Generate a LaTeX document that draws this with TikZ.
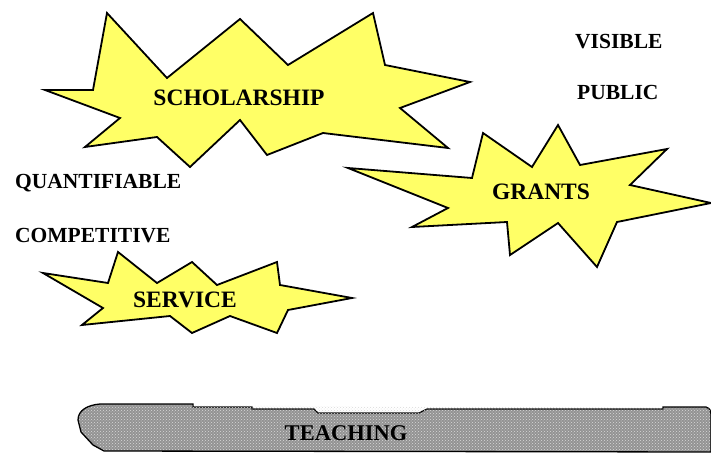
\documentclass[tikz,border=0pt]{standalone}
\usepackage{fontspec}
\setmainfont{Liberation Serif}
\usetikzlibrary{patterns}
\definecolor{sternGelb}{RGB}{255,255,102}
\tikzset{
  stern/.style={draw=black, line width=1.8pt, fill=sternGelb, line join=miter},
  sternText/.style={font=\bfseries\fontsize{23.5}{26}\selectfont, inner sep=0pt},
  merkmal/.style={font=\bfseries\fontsize{21.5}{24}\selectfont, inner sep=0pt, anchor=west},
  band/.style={draw=black, line width=1.3pt, fill=gray!85}
}
\begin{document}
\begin{tikzpicture}[x=1pt, y=-1pt]
  \useasboundingbox (0,0) rectangle (711,454);

  % Stern Scholarship
  \draw[stern] (45,90) -- (93,90) -- (107,13) -- (167,78) -- (240,19) -- (288,65)
    -- (373,13) -- (385,65) -- (470,82) -- (400,108) -- (448,148) -- (323,133)
    -- (267,155) -- (240,120) -- (190,167) -- (157,137) -- (85,147) -- (120,118) -- cycle;
  \node[sternText] (scholarship) at (239,98) {SCHOLARSHIP};

  % Stern Grants
  \draw[stern] (348,168) -- (472,178) -- (483,133) -- (532,167) -- (558,125) -- (580,165)
    -- (667,149) -- (630,185) -- (711,203) -- (617,222) -- (597,267) -- (558,223)
    -- (510,255) -- (507,222) -- (412,227) -- (448,208) -- cycle;
  \node[sternText] (grants) at (541,192) {GRANTS};

  % Stern Service
  \draw[stern] (43,273) -- (108,283) -- (118,252) -- (157,283) -- (192,262) -- (217,285)
    -- (277,262) -- (280,285) -- (352,298) -- (288,310) -- (277,333) -- (230,316)
    -- (192,333) -- (170,316) -- (82,325) -- (103,308) -- cycle;
  \node[sternText] (service) at (185,300) {SERVICE};

  % Merkmale
  \node[merkmal] (visible) at (575,42) {VISIBLE};
  \node[merkmal] (public) at (577,92) {PUBLIC};
  \node[merkmal] (quantifiable) at (15,183) {QUANTIFIABLE};
  \node[merkmal] (competitive) at (15,236) {COMPETITIVE};

  % Band Teaching
  \draw[band] (100,404) -- (193,404) -- (193,407) -- (252,407) -- (252,409) -- (314,409)
    -- (318,413) -- (419,413) -- (427,409) -- (663,409) -- (663,407) -- (706,407)
    .. controls (710,409) .. (711,414) -- (711,452) -- (104,451) -- (93,445) -- (81,432)
    -- (78,420) .. controls (78,410) and (88,405) .. (100,404);
  \fill[pattern=crosshatch dots, pattern color=gray!30] (100,405) -- (710,408) -- (710,451)
    -- (104,450) -- (82,432) -- (79,420) .. controls (79,411) and (88,406) .. (100,405);
  \node[sternText, font=\bfseries\fontsize{22.5}{25}\selectfont] (teaching) at (346,433) {TEACHING};
\end{tikzpicture}
\end{document}
